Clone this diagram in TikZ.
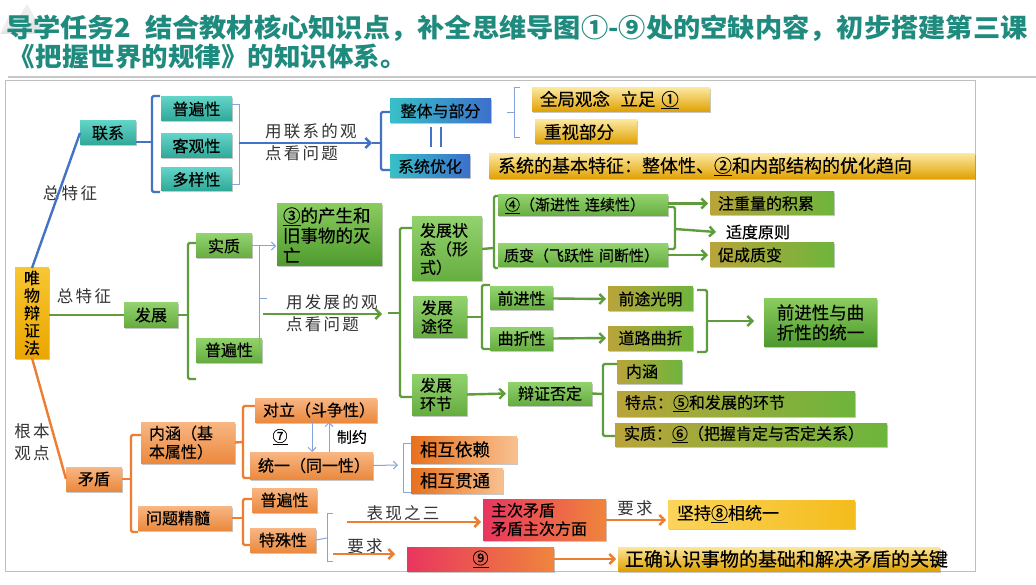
\documentclass[tikz,border=0pt]{standalone}
\usepackage{fontspec}
\setmainfont{Noto Sans CJK SC}
\newfontfamily\hw{Noto Sans CJK SC}[LetterSpace=14]
\newfontfamily\bxf{Noto Sans CJK SC}[FakeBold=0.4]
\usetikzlibrary{arrows.meta,shadows,calc}
\definecolor{titleC}{HTML}{1F8A7E}
\definecolor{tealT}{HTML}{62D3C7}
\definecolor{tealB}{HTML}{2FA898}
\definecolor{blueL}{HTML}{38C0C8}
\definecolor{blueR}{HTML}{3C70CC}
\definecolor{grnT}{HTML}{92D26E}
\definecolor{grnB}{HTML}{66AD40}
\definecolor{dgrnT}{HTML}{8ACB5E}
\definecolor{dgrnB}{HTML}{4E9A2E}
\definecolor{oliveL}{HTML}{B9A43A}
\definecolor{oliveR}{HTML}{6DB53C}
\definecolor{orgT}{HTML}{F8B784}
\definecolor{orgB}{HTML}{EB893E}
\definecolor{org2L}{HTML}{E8701E}
\definecolor{org2R}{HTML}{F8C190}
\definecolor{pinkL}{HTML}{E8365E}
\definecolor{pinkR}{HTML}{F0853C}
\definecolor{goldT}{HTML}{FBE79C}
\definecolor{goldM}{HTML}{F2C12E}
\definecolor{goldB}{HTML}{E0A000}
\definecolor{yelL}{HTML}{FBD45A}
\definecolor{yelR}{HTML}{F4BC1C}
\definecolor{wlT}{HTML}{F7C632}
\definecolor{wlB}{HTML}{EBA600}
\definecolor{lineB}{HTML}{4472C4}
\definecolor{lineLB}{HTML}{86A4DC}
\definecolor{lineG}{HTML}{5F9C3C}
\definecolor{lineO}{HTML}{ED7D31}
% box with centered text: style, name, x1, y1, x2, y2, text
\newcommand\BX[7]{%
  \pgfmathsetmacro\bxw{#5-#3}%
  \pgfmathsetmacro\bxh{#6-#4}%
  \pgfmathsetmacro\bxx{(#3+#5)/2}%
  \pgfmathsetmacro\bxy{(#4+#6)/2}%
  \node[#1,align=center,minimum width=\bxw pt,minimum height=\bxh pt] (#2) at (\bxx,\bxy) {#7};}
% box with left aligned text: style, name, x1, y1, x2, y2, padding, text
\newcommand\BXL[8]{%
  \pgfmathsetmacro\bxw{#5-#3-2*#7}%
  \pgfmathsetmacro\bxh{#6-#4}%
  \pgfmathsetmacro\bxx{(#3+#5)/2}%
  \pgfmathsetmacro\bxy{(#4+#6)/2}%
  \node[#1,align=left,text width=\bxw pt,inner xsep=#7pt,minimum height=\bxh pt] (#2) at (\bxx,\bxy) {#8};}
\begin{document}
\begin{tikzpicture}[x=1pt,y=-1pt,
  every node/.style={inner sep=0pt,outer sep=0pt},
  bxbase/.style={font=\bxf\fontsize{16}{18.5}\selectfont,text=black,
    drop shadow={shadow xshift=1pt,shadow yshift=-1.5pt,opacity=.22,fill=black}},
  sTeal/.style={bxbase,top color=tealT,bottom color=tealB},
  sBlue/.style={bxbase,left color=blueL,right color=blueR},
  sGrn/.style={bxbase,top color=grnT,bottom color=grnB},
  sDgrn/.style={bxbase,top color=dgrnT,bottom color=dgrnB,font=\bxf\fontsize{17.5}{20}\selectfont},
  sOlive/.style={bxbase,left color=oliveL,right color=oliveR},
  sOrg/.style={bxbase,top color=orgT,bottom color=orgB},
  sOrgB/.style={bxbase,left color=org2L,right color=org2R,font=\bxf\fontsize{17.5}{20}\selectfont},
  sPink/.style={bxbase,left color=pinkL,right color=pinkR},
  sGold/.style={bxbase,top color=goldT,middle color=goldM,bottom color=goldB,font=\bxf\fontsize{17.5}{20}\selectfont},
  sYel/.style={bxbase,left color=yelL,right color=yelR,font=\bxf\fontsize{17}{20}\selectfont},
  sWL/.style={bxbase,top color=wlT,bottom color=wlB,font=\bxf\fontsize{16}{17.5}\selectfont},
  lbl/.style={font=\hw\fontsize{16.5}{22}\selectfont,text=black!80,align=left},
  bl/.style={draw=lineB,line width=2.4pt,rounded corners=1.5pt},
  tbl/.style={draw=lineLB,line width=1pt},
  gl/.style={draw=lineG,line width=2.4pt,rounded corners=1.5pt},
  ol/.style={draw=lineO,line width=2.4pt,rounded corners=1.5pt},
  tip/.style={-{Straight Barb[length=5pt,width=10pt]}},
  ttip/.style={-{Straight Barb[length=4pt,width=8pt]}},
]
\useasboundingbox (0,0) rectangle (1036,585);
\fill[white] (0,0) rectangle (1036,585);
% header decoration
\fill[black!7] (0,34) -- (9,16) -- (16,22) -- (27,4) -- (44,34) -- cycle;
\fill[black!11] (0,34) -- (14,24) -- (24,30) -- (34,20) -- (46,34) -- cycle;
\node[anchor=west,font=\bfseries\fontsize{26}{30}\selectfont,text=titleC] (t1) at (6,28)
  {\scalebox{1.048}[1]{导学任务2\hspace{0.5em}结合教材核心知识点，补全思维导图①-⑨处的空缺内容，初步搭建第三课}};
\node[anchor=west,font=\bfseries\fontsize{26}{30}\selectfont,text=titleC] (t2) at (9,57)
  {\scalebox{1.02}[1]{《把握世界的规律》的知识体系。}};
\draw[black!22,line width=1.2pt] (8,77) -- (1036,77);
\draw[black!25,line width=0.8pt] (5,80) rectangle (975,571);

% ---------- nodes ----------
\BX{sWL}{WL}{15}{268}{49}{358}{唯\\物\\辩\\证\\法}
% lianxi
\BX{sTeal}{LX}{80}{121}{136}{145}{联系}
\BX{sTeal}{T1}{161}{97}{232}{121}{普遍性}
\BX{sTeal}{T2}{161}{134}{232}{158}{客观性}
\BX{sTeal}{T3}{161}{168}{232}{191}{多样性}
\BX{sBlue}{ZT}{390}{99}{491}{123}{整体与部分}
\BX{sBlue}{XT}{390}{155}{470}{178}{系统优化}
\BXL{sGold}{QJ}{532}{88}{710}{112}{8}{全局观念\hspace{0.6em}立足 \underline{①}}
\BXL{sGold}{ZS}{535}{120}{637}{144}{9}{重视部分}
\BXL{sGold,font=\bxf\fontsize{18}{20}\selectfont}{XJ}{489}{154}{975}{179}{9}{系统的基本特征：整体性、\underline{②}和内部结构的优化趋向}
% fazhan
\BX{sGrn}{FZ}{124}{303}{178}{327}{发展}
\BX{sGrn}{SZ}{196}{234}{252}{258}{实质}
\BX{sGrn}{PB2}{196}{338}{262}{362}{普遍性}
\BXL{sDgrn}{S3}{277}{204}{382}{266}{6}{\underline{③}的产生和\\旧事物的灭\\亡}
\BXL{sGrn}{FS}{412}{217}{482}{281}{8}{发展状\\态（形\\式）}
\BXL{sGrn}{FT}{413}{297}{467}{337}{8}{发展\\途径}
\BXL{sGrn}{FH}{412}{374}{467}{415}{8}{发展\\环节}
\BXL{sGrn,font=\bxf\fontsize{15}{18}\selectfont}{Z4}{498}{195}{668}{216}{7}{\underline{④}（渐进性 连续性）}
\BXL{sGrn,font=\bxf\fontsize{15}{18}\selectfont}{ZB}{498}{244}{668}{267}{6}{质变（飞跃性 间断性）}
\BXL{sOlive}{JL}{710}{192}{834}{215}{8}{注重量的积累}
\node[font=\bxf\fontsize{16}{18}\selectfont,text=black] (SD) at (758,232) {适度原则};
\BXL{sOlive}{CZ}{710}{243}{834}{267}{8}{促成质变}
\BX{sGrn}{QJX}{490}{287}{553}{310}{前进性}
\BX{sGrn}{QZX}{490}{327}{553}{350}{曲折性}
\BX{sOlive}{QT}{608}{287}{693}{311}{前途光明}
\BX{sOlive}{DL}{608}{326}{693}{350}{道路曲折}
\BX{sDgrn}{TY}{764}{299}{877}{346}{前进性与曲\\折性的统一}
\BX{sGrn}{BZ}{508}{382}{592}{405}{辩证否定}
\BXL{sOlive}{NH}{617}{360}{682}{383}{9}{内涵}
\BXL{sOlive}{TD}{617}{391}{855}{416}{8}{特点：\underline{⑤}和发展的环节}
\BXL{sOlive}{SZB}{615}{423}{887}{446}{9}{实质：\underline{⑥}（把握肯定与否定关系）}
% maodun
\BX{sOrg}{MD}{66}{467}{122}{491}{矛盾}
\BXL{sOrg}{NHB}{141}{422}{235}{463}{8}{内涵（基\\本属性）}
\BXL{sOrg}{WT}{138}{506}{232}{530}{8}{问题精髓}
\BXL{sOrg}{DLB}{255}{398}{377}{422}{8}{对立（斗争性）}
\BXL{sOrg}{TYB}{250}{452}{373}{479}{8}{统一（同一性）}
\BXL{sOrgB}{YL}{411}{436}{517}{463}{9}{相互依赖}
\BXL{sOrgB}{GT}{411}{468}{503}{493}{9}{相互贯通}
\BX{sOrg}{PB3}{252}{488}{317}{512}{普遍性}
\BX{sOrg}{TS}{250}{528}{316}{552}{特殊性}
\BXL{sPink}{ZC}{483}{499}{606}{540}{8}{主次矛盾\\矛盾主次方面}
\BXL{sYel}{JC}{668}{500}{855}{528}{9}{坚持\underline{⑧}相统一}
\BX{sPink}{N9}{407}{547}{554}{571}{\underline{⑨}}
\BXL{sGold,font=\bxf\fontsize{19}{21}\selectfont}{ZQ}{618}{547}{940}{571}{7}{正确认识事物的基础和解决矛盾的关键}

% labels
\node[lbl] (L1) at (70,193) {总特征};
\node[lbl] (L2) at (84,296) {总特征};
\node[lbl,anchor=west] (L3) at (265,142) {用联系的观\\点看问题};
\node[lbl,anchor=west] (L4) at (286,313) {用发展的观\\点看问题};
\node[lbl] (L5) at (32,442) {根本\\观点};
\node[lbl] (L6) at (403,513) {表现之三};
\node[lbl] (L7) at (365,546) {要求};
\node[lbl] (L8) at (635,508) {要求};
\node[font=\bxf\fontsize{15}{18}\selectfont] (L9) at (280,437) {\underline{⑦}};
\node[font=\bxf\fontsize{15}{18}\selectfont] (L10) at (352,437) {制约};

% ---------- connectors ----------
\draw[bl] (WL.north) -- (LX.west);
\draw[gl] (FZ.west -| WL.east) -- (FZ.west);
\draw[ol] (WL.south) -- (MD.west);
% lianxi
\draw[bl] ([yshift=-9pt]LX.east) -- (152,142);
\draw[bl] (160,96) -| (152,192) -- (160,192);
\draw[tbl] (T1.east |- 0,105) -| (239,185) -- (T3.east |- 0,185);
\draw[bl,tip] (239,143) -- (372,143);
\draw[bl] (372,143) -- (381,143);
\draw[bl] (ZT.west |- 0,112) -| (381,170) -- (XT.west |- 0,170);
\draw[bl,rounded corners=0pt] (431,127) -- (431,147) (441,127) -- (441,147);
\draw[tbl] (520,88) -| (514,138) -- (520,138);
\draw[tbl] (507,113) -- (514,113);
% fazhan
\draw[gl] (FZ.east) -- (188,315);
\draw[gl] (SZ.west |- 0,243) -| (188,379) -- (196,379);
\draw[tbl] (SZ.east) -- (259,246) -- (259,351) -- (255,351);
\draw[tbl] (259,299) -- (267,299);
\draw[tbl,ttip] (259,246) -- ([xshift=-1pt]S3.west |- SZ.east);
\draw[gl,tip] (263,314) -- (382,314);
\draw[gl] (388,313) -- (400,313);
\draw[gl] (FS.west |- 0,228) -| (400,397) -- (FH.west |- 0,397);
\draw[gl] (FS.east) -- (494,248);
\draw[gl] (Z4.west |- 0,196) -| (494,268) -- (ZB.west |- 0,268);
\draw[gl,tip] (Z4.east |- JL.west) -- ([xshift=-2pt]JL.west);
\draw[gl] (Z4.east |- 0,207) -| (675,249) -- (ZB.east |- 0,249);
\draw[gl,tip] (675,229) -- ([xshift=-10pt]SD.west);
\draw[gl,tip] (ZB.east |- CZ.west) -- ([xshift=-2pt]CZ.west);
\draw[gl] (FT.east) -- (482,317);
\draw[gl] (QJX.west |- 0,285) -| (482,349) -- (QZX.west |- 0,349);
\draw[gl,tip] (QJX.east) -- ([xshift=-2pt]QT.west);
\draw[gl,tip] (QZX.east) -- ([xshift=-2pt]DL.west);
\draw[gl] ([xshift=4pt]QT.east |- 0,290) -| (707,352) -- ([xshift=4pt]DL.east |- 0,352);
\draw[gl,tip] (707,321) -- ([xshift=-10pt]TY.west |- 0,321);
\draw[gl,tip] (FH.east) -- ([xshift=-2pt]BZ.west);
\draw[gl] (BZ.east) -- (603,394);
\draw[gl] (NH.west |- 0,364) -| (603,436) -- (SZB.west |- 0,436);
% maodun
\draw[ol] (MD.east) -- (131,479);
\draw[ol] (NHB.west |- 0,435) -| (131,532) -- (WT.west |- 0,532);
\draw[ol] (NHB.east) -- (243,442);
\draw[ol] (DLB.west |- 0,406) -| (243,478) -- (TYB.west |- 0,478);
\draw[tbl,ttip] (DLB.south -| 312,0) -- (TYB.north -| 312,0);
\draw[tbl,ttip] (TYB.north -| 329,0) -- (DLB.south -| 329,0);
\draw[tbl,ttip] (TYB.east) -- (398,465);
\draw[tbl] (YL.west |- 0,443) -| (403,492) -- (GT.west |- 0,492);
\draw[ol] (WT.east) -- (243,518);
\draw[ol] (PB3.west |- 0,499) -| (243,545) -- (TS.west |- 0,545);
\draw[tbl] (TS.east) -- (327,538);
\draw[tbl] (333,513) -| (327,561) -- (333,561);
\draw[ol,tip] (347,522) -- ([xshift=-2pt]ZC.west |- 0,522);
\draw[ol,tip] (333,554) -- (395,554);
\draw[ol,tip] (ZC.east |- 0,520) -- ([xshift=-2pt]JC.west |- 0,520);
\draw[ol,tip] (N9.east) -- ([xshift=-2pt]ZQ.west |- N9.east);
\end{tikzpicture}
\end{document}
